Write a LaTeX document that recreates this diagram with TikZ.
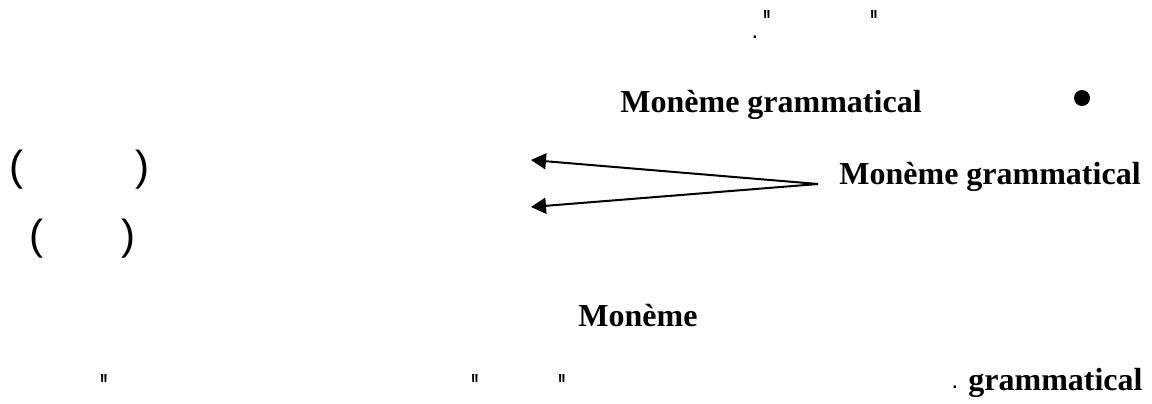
\documentclass[tikz,border=0pt]{standalone}
\usepackage{fontspec}
\usepackage{graphicx}
\setmainfont{Liberation Serif}
\newfontfamily\marksfont{Liberation Sans}
\usetikzlibrary{positioning, arrows.meta}

\begin{document}
\begin{tikzpicture}[
    x=0.5pt, y=-0.5pt,
    node distance=10pt and 10pt,
    term/.style={inner sep=0pt, anchor=base west,
                 font=\fontsize{16}{19}\selectfont\bfseries},
    quotemark/.style={inner sep=0pt, anchor=north,
                      font=\marksfont\bfseries\fontsize{16}{19}\selectfont},
    paren/.style={inner sep=0pt, anchor=center,
                  font=\marksfont\fontsize{21}{25}\selectfont},
    stop/.style={inner sep=0pt, anchor=center,
                  font=\marksfont\fontsize{12}{14}\selectfont},
    arrow/.style={-{Triangle[length=7.5pt,width=8pt]}, line width=1pt}
]
    \useasboundingbox (0,0) rectangle (1152,403);

    % first line
    \node [stop] (stopA) at (755,37) {.};
    \node [quotemark] (quoteA) at (767,10) {\scalebox{0.5}[1]{"}};
    \node [quotemark] (quoteB) at (874,10) {\scalebox{0.5}[1]{"}};

    % bullet line
    \node [term] (gramA) at (620,112) {Monème grammatical};
    \node [circle, fill, inner sep=0pt, minimum size=8pt] (bullet) at (1082,98) {};

    % fork to the two parentheses
    \node [term] (gramB) at (839,184) {Monème grammatical};
    \node [paren] (lparA) at (16.5,169.5) {(};
    \node [paren] (rparA) at (142,169.5) {)};
    \node [paren] (lparB) at (36.5,239) {(};
    \node [paren] (rparB) at (128,239) {)};
    \coordinate [left=10.5pt of gramB.base west] (fork);
    \coordinate (tipA) at (531,160);
    \coordinate (tipB) at (531,207);
    \draw [arrow] (fork) -- (tipA);
    \draw [arrow] (fork) -- (tipB);

    % last lines
    \node [term] (moneme) at (578,326) {Monème};
    \node [quotemark] (quoteC) at (104,374) {\scalebox{0.5}[1]{"}};
    \node [quotemark] (quoteD) at (475,374) {\scalebox{0.5}[1]{"}};
    \node [quotemark] (quoteE) at (562,374) {\scalebox{0.5}[1]{"}};
    \node [stop] (stopB) at (955,387) {.};
    \node [term] (gramC) at (968,390) {grammatical};
\end{tikzpicture}
\end{document}
